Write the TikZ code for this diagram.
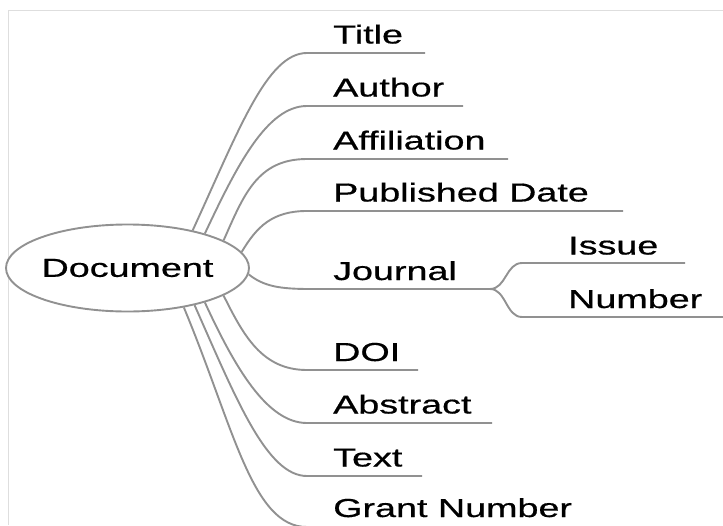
\documentclass[tikz,border=0pt]{standalone}
\usepackage{fontspec}
\setmainfont{Liberation Sans}
\newfontfamily\labelfont[FakeBold=0.5]{Liberation Sans}
\usepackage{graphicx}
\usetikzlibrary{shapes.geometric}

\definecolor{branchgray}{RGB}{145,145,145}
\definecolor{framegray}{RGB}{222,222,222}

% the labels are drawn wider than the font
\newcommand{\wide}[1]{\scalebox{1.45}[1]{#1}}

\tikzset{
  branch/.style={draw=branchgray, line width=1.9pt},
  leaf/.style={anchor=base west, inner sep=0pt, font=\labelfont\fontsize{26}{30}\selectfont},
  root/.style={ellipse, draw=branchgray, line width=1.9pt, fill=white,
    minimum width=233pt, minimum height=87pt, inner sep=0pt,
    font=\labelfont\fontsize{26}{30}\selectfont}
}

\begin{document}
\begin{tikzpicture}[x=1pt, y=-1pt]
%
% fields of a document record

\useasboundingbox (0,0) rectangle (723,525);
\clip (0,0) rectangle (723,525);
%% frame
\draw[framegray, line width=1pt] (8,525) -- (8,10) -- (723,10);

%% root
\node[root] (doc) at (127.5,268) {\wide{Document}};

%% upper branches
\coordinate (title-s) at (307,53);
\coordinate (title-e) at (425,53);
\draw[branch] (doc.30) .. controls +(46,-100) and +(-40,0) .. (title-s) -- (title-e);
	\node[leaf] (title) at (333,43.5) {\wide{Title}};

\coordinate (author-s) at (307,106);
\coordinate (author-e) at (463,106);
\draw[branch] (doc.24) .. controls +(32,-68) and +(-40,0) .. (author-s) -- (author-e);
	\node[leaf] (author) at (333,96.5) {\wide{Author}};

\coordinate (affil-s) at (307,159);
\coordinate (affil-e) at (508,159);
\draw[branch] (doc.16) .. controls +(20,-45) and +(-50,0) .. (affil-s) -- (affil-e);
	\node[leaf] (affil) at (333,149.5) {\wide{Affiliation}};

\coordinate (date-s) at (307,211);
\coordinate (date-e) at (623,211);
\draw[branch] (doc.8) .. controls +(15,-25) and +(-35,0) .. (date-s) -- (date-e);
	\node[leaf] (date) at (333,201.5) {\wide{Published Date}};

%% journal and its fork
\coordinate (journal-s) at (310,289);
\coordinate (fork) at (490,289);
\draw[branch] (doc.-3) .. controls +(15,12) and +(-30,0) .. (journal-s) -- (fork);
	\node[leaf] (journal) at (333,280) {\wide{Journal}};

\coordinate (issue-s) at (522,263);
\coordinate (issue-e) at (685,263);
\draw[branch] (fork) .. controls +(16,0) and +(-16,0) .. (issue-s) -- (issue-e);
	\node[leaf] (issue) at (568,254.5) {\wide{Issue}};

\coordinate (number-s) at (522,317);
\coordinate (number-e) at (730,317);
\draw[branch] (fork) .. controls +(16,0) and +(-16,0) .. (number-s) -- (number-e);
	\node[leaf] (number) at (568,308) {\wide{Number}};

%% lower branches
\coordinate (doi-s) at (307,370);
\coordinate (doi-e) at (418,370);
\draw[branch] (doc.-16) .. controls +(20,40) and +(-45,0) .. (doi-s) -- (doi-e);
	\node[leaf] (doi) at (333,361) {\wide{DOI}};

\coordinate (abstract-s) at (307,423);
\coordinate (abstract-e) at (492,423);
\draw[branch] (doc.-24) .. controls +(30,65) and +(-40,0) .. (abstract-s) -- (abstract-e);
	\node[leaf] (abstract) at (333,413.5) {\wide{Abstract}};

\coordinate (text-s) at (307,476);
\coordinate (text-e) at (422,476);
\draw[branch] (doc.-29) .. controls +(42,95) and +(-40,0) .. (text-s) -- (text-e);
	\node[leaf] (text) at (333,466.5) {\wide{Text}};

\coordinate (grant-s) at (307,527);
\coordinate (grant-e) at (730,527);
\draw[branch] (doc.-35) .. controls +(50,120) and +(-55,0) .. (grant-s) -- (grant-e);
	\node[leaf] (grant) at (333,517) {\wide{Grant Number}};
\end{tikzpicture}
\end{document}
